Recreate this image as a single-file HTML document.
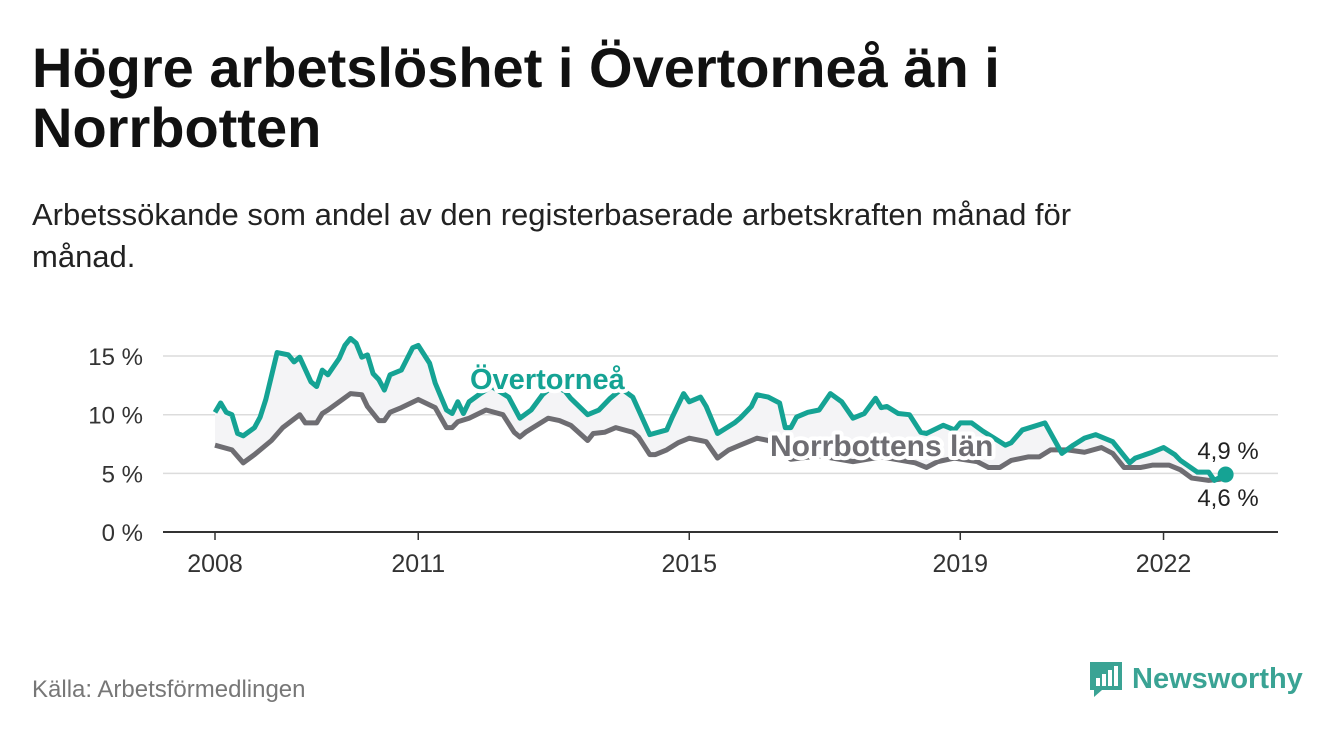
<!DOCTYPE html>
<html><head><meta charset="utf-8"><style>
body{margin:0;width:1340px;height:734px;background:#fff;font-family:"Liberation Sans",sans-serif;overflow:hidden;position:relative}
h1{position:absolute;left:32px;top:38px;margin:0;font-size:56px;line-height:60px;font-weight:bold;color:#111;width:1050px}
.sub{position:absolute;left:32px;top:194px;font-size:31px;line-height:42px;color:#222;width:1100px}
.src{position:absolute;left:32px;top:676px;font-size:24px;color:#777}
.logo{position:absolute;left:1088px;top:660px;display:flex;align-items:center;gap:8px;color:#3aa394;font-size:29px;font-weight:bold}
</style></head><body>
<h1>Högre arbetslöshet i Övertorneå än i Norrbotten</h1>
<div class="sub">Arbetssökande som andel av den registerbaserade arbetskraften månad för månad.</div>
<svg id="chart" width="1340" height="734" style="position:absolute;left:0;top:0"></svg>
<div class="src">Källa: Arbetsförmedlingen</div>
<div class="logo"><svg width="36" height="38" viewBox="0 0 36 38"><path d="M2 2h32v28H14l-8 7v-7H2z" fill="#3aa394"/><rect x="8" y="18" width="4" height="8" fill="#fff"/><rect x="14" y="14" width="4" height="12" fill="#fff"/><rect x="20" y="10" width="4" height="16" fill="#fff"/><rect x="26" y="6" width="4" height="20" fill="#fff"/></svg><span>Newsworthy</span></div>
<script>
const yTicks=[0,5,10,15];
const xTickYears=[2008,2011,2015,2019,2022];
const overMonths=[0,1,2,3,4,5,7,8,9,11,13,14,15,17,18,19,20,22,23,24,25,26,27,28,29,30,31,33,35,36,38,39,41,42,43,44,45,47,49,52,54,56,58,60,62,63,66,68,70,72,74,77,80,81,83,84,86,87,89,92,93,95,96,98,100,101,102,103,105,107,109,111,113,115,117,118,119,121,123,125,126,129,131,132,134,136,138,140,141,143,145,147,150,152,154,156,159,162,163,166,168,170,171,174,176,177,179];
const overValues=[10.2,11.0,10.2,10.0,8.4,8.2,8.9,9.8,11.3,15.3,15.1,14.5,14.9,12.8,12.4,13.8,13.4,14.8,15.9,16.5,16.1,14.9,15.1,13.5,13.0,12.1,13.4,13.8,15.7,15.9,14.4,12.7,10.4,10.1,11.1,10.1,11.1,11.8,12.4,11.5,9.7,10.4,11.7,12.5,12.0,11.4,10.0,10.4,11.4,12.2,11.5,8.3,8.7,9.8,11.8,11.1,11.5,10.7,8.4,9.3,9.7,10.7,11.7,11.5,11.0,8.9,8.9,9.8,10.2,10.4,11.8,11.1,9.7,10.1,11.4,10.6,10.7,10.1,10.0,8.5,8.4,9.1,8.7,9.3,9.3,8.6,8.0,7.4,7.6,8.7,9.0,9.3,6.7,7.4,8.0,8.3,7.7,5.9,6.3,6.8,7.2,6.6,6.1,5.1,5.1,4.4,4.9];
const norrMonths=[0,3,5,7,10,12,15,16,18,19,20,24,26,27,29,30,31,33,36,39,41,42,43,45,48,51,53,54,55,58,59,61,63,66,67,69,71,74,75,77,78,80,82,84,86,87,89,91,93,95,96,98,102,107,113,118,124,126,128,131,135,137,139,141,144,146,148,151,154,157,159,161,164,166,169,171,173,176,178,179];
const norrValues=[7.4,7.0,5.9,6.6,7.8,8.9,10.0,9.3,9.3,10.1,10.4,11.8,11.7,10.7,9.5,9.5,10.2,10.6,11.3,10.6,8.9,8.9,9.4,9.7,10.4,10.0,8.5,8.1,8.5,9.4,9.7,9.5,9.1,7.8,8.4,8.5,8.9,8.5,8.1,6.6,6.6,7.0,7.6,8.0,7.8,7.7,6.3,7.0,7.4,7.8,8.0,7.8,6.2,6.5,6.0,6.4,5.9,5.5,6.0,6.3,6.0,5.5,5.5,6.1,6.4,6.4,7.0,7.0,6.8,7.2,6.7,5.5,5.5,5.7,5.7,5.3,4.6,4.4,4.5,4.6];
const NS="http://www.w3.org/2000/svg";
const svg=document.getElementById('chart');
const xM=m=>215+m*5.646;
const xY=y=>xM((y-2008)*12);
const yV=v=>532-v*11.73;
function mk(t,a,p){const e=document.createElementNS(NS,t);for(const k in a)e.setAttribute(k,a[k]);(p||svg).appendChild(e);return e;}
yTicks.forEach(v=>{
  if(v>0){const g=mk('line',{x1:163,x2:1278,y1:yV(v),y2:yV(v),stroke:'#dcdcdc','stroke-width':1.5});
  
  }
  const t=mk('text',{x:143,y:yV(v)+9,'text-anchor':'end','font-size':24,fill:'#333'});
  
  
  t.textContent=v+' %';
});
const ax=mk('line',{x1:163,x2:1278,y1:532,y2:532,stroke:'#333','stroke-width':2});


xTickYears.forEach(y=>{
  const tk=mk('line',{x1:xY(y),x2:xY(y),y1:532,y2:540,stroke:'#333','stroke-width':1.5});
  
  
  const t=mk('text',{x:xY(y),y:572,'text-anchor':'middle','font-size':25,fill:'#333'});
  
  
  t.textContent=y;
});
const op=overMonths.map((m,i)=>[xM(m),yV(overValues[i])]);
const np=norrMonths.map((m,i)=>[xM(m),yV(norrValues[i])]);
const area=mk('polygon',{points:op.concat(np.slice().reverse()).map(p=>p.join(',')).join(' '),fill:'#f4f4f6'});


const nl=mk('polyline',{points:np.map(p=>p.join(',')).join(' '),fill:'none',stroke:'#6e6d72','stroke-width':5,'stroke-linejoin':'round'});


const ol=mk('polyline',{points:op.map(p=>p.join(',')).join(' '),fill:'none',stroke:'#15a394','stroke-width':5,'stroke-linejoin':'round'});


const lp=op[op.length-1];
const dot=mk('circle',{cx:lp[0],cy:lp[1],r:8,fill:'#15a394'});


function lab(txt,x,y,col,size,bold,name,anchor){
  const t=mk('text',{x:x,y:y,fill:col,'font-size':size,'font-weight':bold?'bold':'normal',stroke:'#fff','stroke-width':bold?8:5,'paint-order':'stroke','stroke-linejoin':'round','text-anchor':anchor||'start'});
  
  
  t.textContent=txt;
}
lab('Övertorneå',470,389,'#15a394',29,true,'overtornea-label');
lab('Norrbottens län',770,456,'#6e6d72',30,true,'norrbotten-label');
lab(String(overValues[overValues.length-1]).replace('.',',')+' %',1228,459,'#222',24,false,'overtornea-end-value','middle');
lab(String(norrValues[norrValues.length-1]).replace('.',',')+' %',1228,506,'#222',24,false,'norrbotten-end-value','middle');
</script>
</body></html>
